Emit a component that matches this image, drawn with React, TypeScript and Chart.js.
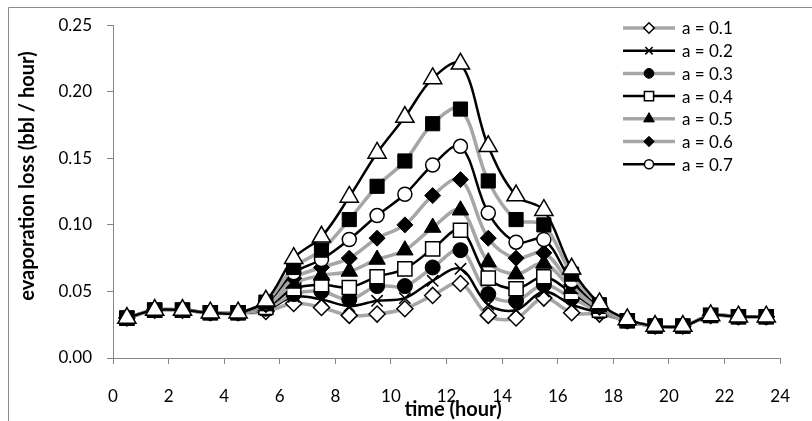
import React, { useEffect, useRef } from 'react';
import { Chart, registerables } from 'chart.js';
import { drawPoint } from 'chart.js/helpers';

Chart.register(...registerables);

const hours = [0.5, 1.5, 2.5, 3.5, 4.5, 5.5, 6.5, 7.5, 8.5, 9.5, 10.5, 11.5, 12.5, 13.5, 14.5, 15.5, 16.5, 17.5, 18.5, 19.5, 20.5, 21.5, 22.5, 23.5];

const seriesLabels = ['a = 0.1', 'a = 0.2', 'a = 0.3', 'a = 0.4', 'a = 0.5', 'a = 0.6', 'a = 0.7', 'a = 0.8', 'a = 0.9'];

const a01 = [0.030, 0.036, 0.036, 0.034, 0.034, 0.035, 0.041, 0.038, 0.032, 0.033, 0.037, 0.047, 0.056, 0.032, 0.030, 0.045, 0.034, 0.033, 0.028, 0.024, 0.024, 0.032, 0.031, 0.031];
const a02 = [0.030, 0.036, 0.036, 0.034, 0.034, 0.036, 0.046, 0.044, 0.039, 0.043, 0.045, 0.058, 0.067, 0.040, 0.036, 0.050, 0.040, 0.034, 0.028, 0.024, 0.024, 0.032, 0.031, 0.031];
const a03 = [0.030, 0.036, 0.036, 0.034, 0.034, 0.037, 0.048, 0.050, 0.044, 0.054, 0.054, 0.068, 0.081, 0.048, 0.043, 0.055, 0.045, 0.035, 0.028, 0.024, 0.024, 0.032, 0.031, 0.031];
const a04 = [0.030, 0.036, 0.036, 0.034, 0.034, 0.038, 0.052, 0.055, 0.053, 0.061, 0.067, 0.082, 0.096, 0.060, 0.052, 0.061, 0.049, 0.036, 0.028, 0.024, 0.024, 0.032, 0.031, 0.031];
const a05 = [0.030, 0.036, 0.036, 0.034, 0.034, 0.039, 0.056, 0.062, 0.065, 0.074, 0.081, 0.098, 0.111, 0.072, 0.063, 0.071, 0.052, 0.037, 0.028, 0.024, 0.024, 0.032, 0.031, 0.031];
const a06 = [0.030, 0.036, 0.036, 0.034, 0.034, 0.040, 0.060, 0.068, 0.075, 0.090, 0.100, 0.122, 0.134, 0.090, 0.075, 0.079, 0.055, 0.038, 0.028, 0.024, 0.024, 0.032, 0.031, 0.031];
const a07 = [0.030, 0.036, 0.036, 0.034, 0.034, 0.041, 0.064, 0.074, 0.089, 0.107, 0.123, 0.145, 0.159, 0.109, 0.087, 0.089, 0.058, 0.039, 0.028, 0.024, 0.024, 0.032, 0.031, 0.031];
const a08 = [0.030, 0.036, 0.036, 0.034, 0.034, 0.042, 0.068, 0.081, 0.104, 0.129, 0.148, 0.176, 0.187, 0.133, 0.104, 0.100, 0.063, 0.040, 0.028, 0.024, 0.024, 0.032, 0.031, 0.031];
const a09 = [0.030, 0.036, 0.036, 0.034, 0.034, 0.043, 0.075, 0.091, 0.121, 0.154, 0.181, 0.210, 0.221, 0.159, 0.122, 0.111, 0.067, 0.041, 0.029, 0.024, 0.024, 0.032, 0.031, 0.031];

const seriesValues = [a01, a02, a03, a04, a05, a06, a07, a08, a09];
const legendCount = 7;

const xTicks = [0, 2, 4, 6, 8, 10, 12, 14, 16, 18, 20, 22, 24];
const yTicks = [0, 0.05, 0.1, 0.15, 0.2, 0.25];

const GRAY = '#a6a6a6';
const BLACK = '#000000';
const WHITE = '#ffffff';
const FONT = 'Lato, "Open Sans", sans-serif';

const styles = [
  { line: GRAY, lw: 3.5, point: 'rectRot', r: 8, fill: WHITE, bw: 1.5 },
  { line: BLACK, lw: 2.5, point: 'crossRot', r: 8, fill: BLACK, bw: 1.5 },
  { line: GRAY, lw: 3.5, point: 'circle', r: 7.5, fill: BLACK, bw: 1 },
  { line: BLACK, lw: 2.5, point: 'rect', r: 10, fill: WHITE, bw: 1.5 },
  { line: GRAY, lw: 3.5, point: 'triangle', r: 9.5, fill: BLACK, bw: 1 },
  { line: GRAY, lw: 3.5, point: 'rectRot', r: 8, fill: BLACK, bw: 1 },
  { line: BLACK, lw: 2.5, point: 'circle', r: 7, fill: WHITE, bw: 1.5 },
  { line: GRAY, lw: 3.5, point: 'rect', r: 10, fill: BLACK, bw: 1 },
  { line: BLACK, lw: 2.5, point: 'triangle', r: 10.5, fill: WHITE, bw: 1.5 },
];

const decorPlugin = {
  id: 'decor',
  afterDraw(chart: any) {
    const ctx = chart.ctx as CanvasRenderingContext2D;
    ctx.save();
    // outer frame
    ctx.strokeStyle = '#8c8c8c';
    ctx.lineWidth = 1;
    ctx.beginPath();
    ctx.moveTo(8.5, 421);
    ctx.lineTo(8.5, 7.5);
    ctx.lineTo(812, 7.5);
    ctx.stroke();

    // axis titles
    ctx.fillStyle = '#000';
    ctx.font = `bold 20px ${FONT}`;
    ctx.textAlign = 'center';
    ctx.textBaseline = 'middle';
    ctx.fillText('time (hour)', 453, 410);
    ctx.save();
    ctx.translate(28, 176);
    ctx.rotate(-Math.PI / 2);
    ctx.fillText('evaporation loss (bbl / hour)', 0, 0);
    ctx.restore();

    // legend
    const lx0 = 623;
    const lx1 = 675;
    const mx = 649;
    ctx.font = `17px ${FONT}`;
    ctx.textAlign = 'left';
    for (let i = 0; i < legendCount; i++) {
      const s = styles[i];
      const y = 28 + i * 22.7;
      ctx.strokeStyle = s.line;
      ctx.lineWidth = s.lw;
      ctx.beginPath();
      ctx.moveTo(lx0, y);
      ctx.lineTo(lx1, y);
      ctx.stroke();
      ctx.fillStyle = s.fill;
      ctx.strokeStyle = BLACK;
      ctx.lineWidth = s.bw;
      drawPoint(ctx, { pointStyle: s.point, radius: s.r * 0.65, rotation: 0, borderWidth: s.bw } as any, mx, y);
      ctx.fillStyle = '#000';
      ctx.fillText(seriesLabels[i], 682, y + 1);
    }
    ctx.restore();
  },
};

export default function App() {
  const ref = useRef<HTMLCanvasElement | null>(null);

  useEffect(() => {
    if (!ref.current) return;
    const datasets = seriesValues.map((vals, i) => {
      const s = styles[i];
      return {
        label: seriesLabels[i],
        data: hours.map((h, j) => ({ x: h, y: vals[j] })),
        borderColor: s.line,
        borderWidth: s.lw,
        tension: 0.35,
        pointStyle: s.point,
        pointRadius: s.r,
        pointHoverRadius: s.r,
        pointBackgroundColor: s.fill,
        pointBorderColor: BLACK,
        pointBorderWidth: s.bw,
        fill: false,
        order: seriesValues.length - i,
        clip: false,
      };
    });

    const chart = new Chart(ref.current, {
      type: 'line',
      data: { datasets } as any,
      options: {
        animation: false,
        responsive: false,
        maintainAspectRatio: false,
        layout: { padding: { left: 0, right: 22, top: 20, bottom: 0 } },
        plugins: {
          legend: { display: false },
          tooltip: { enabled: false },
        },
        scales: {
          x: {
            type: 'linear',
            min: 0,
            max: 24,
            afterBuildTicks: (axis: any) => {
              axis.ticks = xTicks.map((v) => ({ value: v }));
            },
            afterFit: (axis: any) => {
              axis.height = 63;
            },
            ticks: {
              color: '#000',
              font: { family: FONT, size: 17 },
              padding: 22,
              maxRotation: 0,
              autoSkip: false,
              callback: (v: any) => String(v),
            },
            grid: {
              drawOnChartArea: false,
              drawTicks: true,
              tickLength: 6,
              color: '#868686',
            },
            border: { display: true, color: '#868686', width: 1 },
          },
          y: {
            type: 'linear',
            min: 0,
            max: 0.25,
            afterBuildTicks: (axis: any) => {
              axis.ticks = yTicks.map((v) => ({ value: v }));
            },
            afterFit: (axis: any) => {
              axis.width = 113;
            },
            ticks: {
              color: '#000',
              font: { family: FONT, size: 17 },
              padding: 15,
              autoSkip: false,
              callback: (v: any) => Number(v).toFixed(2),
            },
            grid: {
              drawOnChartArea: false,
              drawTicks: true,
              tickLength: 6,
              color: '#868686',
            },
            border: { display: true, color: '#868686', width: 1 },
          },
        },
      } as any,
      plugins: [decorPlugin],
    });
    return () => chart.destroy();
  }, []);

  return (
    <div style={{ position: 'absolute', left: 0, top: 0, width: 812, height: 421, background: '#fff' }}>
      <canvas ref={ref} width={812} height={421} style={{ width: 812, height: 421 }} />
    </div>
  );
}
